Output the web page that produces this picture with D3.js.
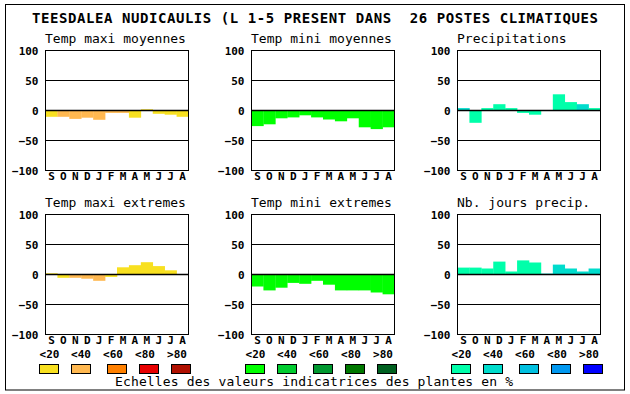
<!DOCTYPE html>
<html>
<head>
<meta charset="utf-8">
<script src="https://cdn.jsdelivr.net/npm/d3@7"></script>
<style>
    body { margin: 0; background: #fff; }
    svg text { font-family: "DejaVu Sans Mono", monospace; fill: #000; white-space: pre; }
    .axis text { font-weight: bold; font-size: 11px; }
    .axis path { display: none; }
</style>
</head>
<body>
<div id="chart"></div>
<script>
// Data
const months = ['S', 'O', 'N', 'D', 'J', 'F', 'M', 'A', 'M ', 'J ', 'J  ', 'A '];
const monthLabels = ['S', 'O', 'N', 'D', 'J', 'F', 'M', 'A', 'M', 'J', 'J', 'A'];
const yTicks = [-100, -50, 0, 50, 100];
const legendLabels = ['<20', '<40', '<60', '<80', '>80'];

const titles = ['Temp maxi moyennes', 'Temp mini moyennes', 'Precipitations',
                'Temp maxi extremes', 'Temp mini extremes', 'Nb. jours precip.'];

const tmaxMoy = [-10.5, -10.5, -14, -12, -15.5, -4, -4, -12, 2, -5.5, -7, -10.5];
const tminMoy = [-26, -23, -13, -11.5, -8, -11.5, -15, -18, -13, -28, -31, -28];
const precip = [4, -20.5, 4, 10.5, 4, -4, -7, 0, 27, 14, 10.5, 4];
const tmaxExt = [2, -5.5, -5.5, -7, -10.5, -4, 12, 15.5, 20.5, 14, 7, 0];
const tminExt = [-20, -26.5, -22, -14, -15.5, -10.5, -17, -26.5, -26.5, -26.5, -30, -33];
const nbJours = [11.5, 11.5, 10, 21.5, 5, 23.5, 20, 1.5, 16.5, 10, 5, 10];

// class of indicator value (0: <20 ... 4: >80)
const tmaxMoyCls = [0, 1, 1, 1, 1, 1, 1, 0, 0, 0, 0, 0];
const tminMoyCls = [0, 0, 0, 0, 0, 0, 0, 0, 0, 0, 0, 0];
const precipCls = [1, 0, 0, 0, 0, 0, 0, 0, 0, 0, 1, 0];
const tmaxExtCls = [0, 0, 1, 1, 1, 0, 0, 0, 0, 0, 0, 0];
const tminExtCls = [0, 0, 0, 0, 0, 0, 0, 0, 0, 0, 0, 0];
const nbJoursCls = [0, 0, 0, 0, 0, 0, 0, 1, 1, 1, 1, 1];

const warmColors = ['#f8e020', '#ffb850', '#ff8000', '#e80000', '#b01000'];
const greenColors = ['#00ff00', '#00cc30', '#009830', '#007800', '#006020'];
const blueColors = ['#00ffaa', '#00dccc', '#00c0e0', '#0098f0', '#0000ff'];

const panels = [
    {values: tmaxMoy, cls: tmaxMoyCls, colors: warmColors},
    {values: tminMoy, cls: tminMoyCls, colors: greenColors},
    {values: precip, cls: precipCls, colors: blueColors},
    {values: tmaxExt, cls: tmaxExtCls, colors: warmColors},
    {values: tminExt, cls: tminExtCls, colors: greenColors},
    {values: nbJours, cls: nbJoursCls, colors: blueColors}
];

const width = 630, height = 394;
const svg = d3.select('#chart').append('svg')
    .attr('width', width)
    .attr('height', height);

svg.append('rect')
    .attr('x', 5.5).attr('y', 4.5)
    .attr('width', 619).attr('height', 385.5)
    .attr('fill', '#fff').attr('stroke', '#000');

svg.append('text')
    .attr('x', 32).attr('y', 22.5)
    .attr('textLength', 566)
    .attr('lengthAdjust', 'spacing')
    .attr('xml:space', 'preserve')
    .style('font-size', '14px')
    .style('font-weight', 'bold')
    .text('TEESDALEA NUDICAULIS (L 1-5 PRESENT DANS  26 POSTES CLIMATIQUES');

const plotW = 143, plotH = 120;

panels.forEach((p, i) => {
    const col = i % 3, row = Math.floor(i / 3);
    const x0 = 45.5 + col * 206;
    const y0 = row === 0 ? 50.5 : 214.5;

    const g = svg.append('g').attr('transform', `translate(${x0},${y0})`);

    const x = d3.scaleBand().domain(months).range([0, plotW]).padding(0);
    const y = d3.scaleLinear().domain([-100, 100]).range([plotH, 0]);

    // bars
    g.selectAll('.bar')
        .data(p.values)
        .enter()
        .append('rect')
        .attr('class', 'bar')
        .attr('x', (d, j) => x(months[j]))
        .attr('width', x.bandwidth() + 0.3)
        .attr('y', d => y(Math.max(0, d)))
        .attr('height', d => Math.abs(y(d) - y(0)))
        .attr('fill', (d, j) => p.colors[p.cls[j]]);

    // grid lines
    g.selectAll('.grid')
        .data([-50, 0, 50])
        .enter()
        .append('line')
        .attr('x1', 0).attr('x2', plotW)
        .attr('y1', d => y(d)).attr('y2', d => y(d))
        .attr('stroke', '#000')
        .attr('stroke-width', d => d === 0 ? 1.4 : 1);

    g.append('rect')
        .attr('width', plotW).attr('height', plotH)
        .attr('fill', 'none').attr('stroke', '#000');

    // axes
    g.append('g')
        .attr('class', 'axis')
        .call(d3.axisLeft(y).tickValues(yTicks).tickSize(0).tickPadding(7));

    g.append('g')
        .attr('class', 'axis')
        .attr('transform', `translate(0,${plotH})`)
        .call(d3.axisBottom(x).tickSize(0).tickPadding(2).tickFormat((d, j) => monthLabels[j]));

    g.append('text')
        .attr('x', -0.5)
        .attr('y', -7.5)
        .style('font-size', '13px')
        .text(titles[i]);

    // legend under the bottom row
    if (row === 1) {
        const boxOffsets = [0, 32, 68, 100, 132];
        const labelOffsets = [10.5, 42, 74, 106, 138];
        const lx = 39 + col * 206;
        const lg = svg.append('g');
        lg.selectAll('text')
            .data(legendLabels)
            .enter()
            .append('text')
            .attr('x', (d, j) => lx + labelOffsets[j])
            .attr('y', 358)
            .attr('text-anchor', 'middle')
            .style('font-size', '11px')
            .style('font-weight', 'bold')
            .text(d => d);
        lg.selectAll('rect')
            .data(p.colors)
            .enter()
            .append('rect')
            .attr('x', (d, j) => lx + boxOffsets[j] + 0.5)
            .attr('y', 364.5)
            .attr('width', 19).attr('height', 9)
            .attr('fill', d => d)
            .attr('stroke', '#000');
    }
});

svg.append('text')
    .attr('x', 115).attr('y', 386)
    .attr('textLength', 398)
    .attr('lengthAdjust', 'spacing')
    .style('font-size', '13px')
    .text('Echelles des valeurs indicatrices des plantes en %');
</script>
</body>
</html>
